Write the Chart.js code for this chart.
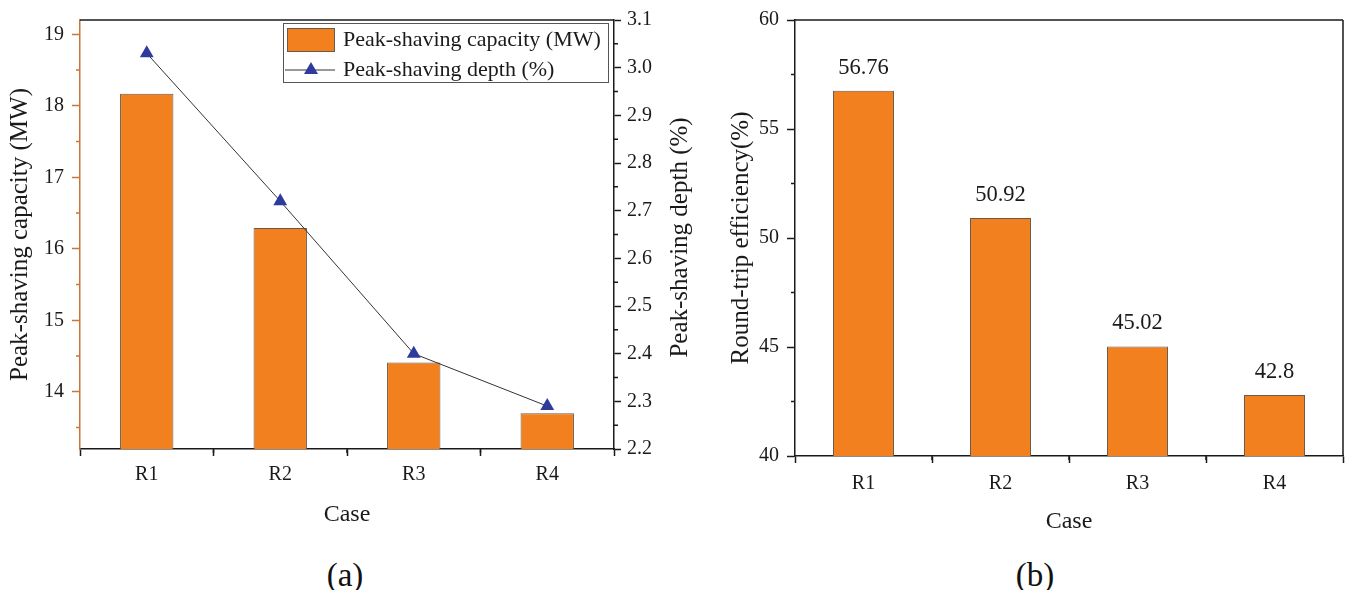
<!DOCTYPE html>
<html>
<head>
<meta charset="utf-8">
<script src="https://cdn.jsdelivr.net/npm/chart.js@4.4.0/dist/chart.umd.min.js"></script>
<style>
  body { margin: 0; background: #fff; width: 1349px; height: 590px; overflow: hidden; position: relative; font-family: "Liberation Serif", "Times New Roman", serif; }
  canvas { position: absolute; top: 0; }
  #chartA { left: 0; }
  #chartB { left: 700px; }
  .panel-tag { position: absolute; width: 100px; text-align: center; font-size: 33px; line-height: 40px; color: #111; }
</style>
</head>
<body>
<canvas id="chartA" width="700" height="545"></canvas>
<canvas id="chartB" width="649" height="545"></canvas>
<div class="panel-tag" style="left:295px; top:555px;">(a)</div>
<div class="panel-tag" style="left:985px; top:555px;">(b)</div>
<script>
// ---- data ----
const cases = ['R1', 'R2', 'R3', 'R4'];
const capacityMW = [18.17, 16.29, 14.41, 13.70];
const depthPct = [3.03, 2.72, 2.40, 2.29];
const efficiencyPct = [56.76, 50.92, 45.02, 42.8];

// ---- tick labels ----
const capacityTicks = [14, 15, 16, 17, 18, 19];
const capacityMinor = [13.5, 14.5, 15.5, 16.5, 17.5, 18.5];
const depthTicks = [2.2, 2.3, 2.4, 2.5, 2.6, 2.7, 2.8, 2.9, 3.0, 3.1];
const depthMinor = [2.25, 2.35, 2.45, 2.55, 2.65, 2.75, 2.85, 2.95, 3.05];
const efficiencyTicks = [40, 45, 50, 55, 60];
const efficiencyMinor = [42.5, 47.5, 52.5, 57.5];

const SERIF = '"Liberation Serif", "Times New Roman", serif';
const ORANGE = '#F2801E';
const BAR_EDGE = '#6b5a4a';
const AXIS_ORANGE = '#C8763A';
const MARKER_BLUE = '#2E3A9E';
const INK = '#1a1a1a';

const tickFont = { family: SERIF, size: 20 };
const titleFont = { family: SERIF, size: 25 };
const caseFont = { family: SERIF, size: 24 };

const fixedTicks = (values) => (scale) => { scale.ticks = values.map(v => ({ value: v })); };

// short ticks between the labelled ones
const minorTicks = {
  id: 'minorTicks',
  afterDraw(chart, args, opts) {
    const ctx = chart.ctx;
    for (const [id, cfg] of Object.entries(opts.scales || {})) {
      const s = chart.scales[id];
      let pixels = [];
      if (cfg.between) {
        for (let i = 1; i < s.ticks.length; i++) pixels.push((s.getPixelForTick(i - 1) + s.getPixelForTick(i)) / 2);
      } else {
        pixels = cfg.values.map(v => s.getPixelForValue(v));
      }
      ctx.save();
      ctx.strokeStyle = cfg.color;
      ctx.lineWidth = 1.5;
      ctx.beginPath();
      for (const p of pixels) {
        if (s.isHorizontal()) { ctx.moveTo(p, s.top); ctx.lineTo(p, s.top + cfg.length); }
        else if (s.position === 'left') { ctx.moveTo(s.right, p); ctx.lineTo(s.right - cfg.length, p); }
        else { ctx.moveTo(s.left, p); ctx.lineTo(s.left + cfg.length, p); }
      }
      ctx.stroke();
      ctx.restore();
    }
  }
};

// closing lines of the plot frame
const frame = {
  id: 'frame',
  afterDraw(chart, args, opts) {
    const { ctx, chartArea: a } = chart;
    ctx.save();
    ctx.strokeStyle = INK;
    ctx.lineWidth = 1.5;
    ctx.beginPath();
    ctx.moveTo(a.left, a.top); ctx.lineTo(a.right, a.top);
    if (opts.right) { ctx.moveTo(a.right, a.top); ctx.lineTo(a.right, a.bottom); }
    ctx.stroke();
    ctx.restore();
  }
};

// right-hand axis title, reading bottom to top
const sideTitle = {
  id: 'sideTitle',
  afterDraw(chart, args, opts) {
    if (!opts.text) return;
    const { ctx, chartArea: a } = chart;
    ctx.save();
    ctx.translate(opts.x, (a.top + a.bottom) / 2 + (opts.dy || 0));
    ctx.rotate(-Math.PI / 2);
    ctx.font = `${titleFont.size}px ${SERIF}`;
    ctx.fillStyle = INK;
    ctx.textAlign = 'center';
    ctx.textBaseline = 'middle';
    ctx.fillText(opts.text, 0, 0);
    ctx.restore();
  }
};

// boxed legend in the upper right of panel (a)
const boxLegend = {
  id: 'boxLegend',
  afterDraw(chart, args, opts) {
    if (!opts.show) return;
    const ctx = chart.ctx;
    const x = opts.x, y = opts.y, w = opts.w, h = opts.h;
    const ds = chart.data.datasets;
    ctx.save();
    ctx.fillStyle = '#fff';
    ctx.fillRect(x, y, w, h);
    ctx.strokeStyle = '#555';
    ctx.lineWidth = 1;
    ctx.strokeRect(x + 0.5, y + 0.5, w, h);
    // bar swatch
    ctx.fillStyle = ORANGE;
    ctx.fillRect(x + 4, y + 5, 48, 24);
    ctx.strokeStyle = BAR_EDGE;
    ctx.strokeRect(x + 4.5, y + 5.5, 47, 23);
    // line swatch with its marker
    const ly = y + 47;
    ctx.strokeStyle = '#333';
    ctx.lineWidth = 1;
    ctx.beginPath(); ctx.moveTo(x + 2, ly); ctx.lineTo(x + 52, ly); ctx.stroke();
    ctx.fillStyle = MARKER_BLUE;
    ctx.beginPath();
    ctx.moveTo(x + 28, ly - 8); ctx.lineTo(x + 35, ly + 4); ctx.lineTo(x + 21, ly + 4); ctx.closePath();
    ctx.fill();
    ctx.fillStyle = INK;
    ctx.font = `22px ${SERIF}`;
    ctx.textBaseline = 'middle';
    ctx.fillText(ds[0].label, x + 60, y + 17);
    ctx.fillText(ds[1].label, x + 60, ly);
    ctx.restore();
  }
};

// numbers printed above the bars of panel (b)
const valueLabels = {
  id: 'valueLabels',
  afterDatasetsDraw(chart) {
    const ctx = chart.ctx;
    const meta = chart.getDatasetMeta(0);
    const values = chart.data.datasets[0].data;
    ctx.save();
    ctx.font = `22.5px ${SERIF}`;
    ctx.fillStyle = INK;
    ctx.textAlign = 'center';
    ctx.textBaseline = 'middle';
    meta.data.forEach((bar, i) => ctx.fillText(String(values[i]), bar.x, bar.y - 23));
    ctx.restore();
  }
};

const xScale = (height, tickPad, titlePad) => ({
  type: 'category',
  offset: true,
  afterFit: s => { s.height = height; },
  grid: { display: true, drawOnChartArea: false, drawTicks: true, tickLength: 7, tickColor: INK, tickWidth: 1.5 },
  border: { display: true, color: INK, width: 1.5 },
  ticks: { color: INK, font: tickFont, padding: tickPad, maxRotation: 0 },
  title: { display: true, text: 'Case', color: INK, font: caseFont, padding: { top: 0, bottom: titlePad } }
});

new Chart(document.getElementById('chartA'), {
  data: {
    labels: cases,
    datasets: [
      {
        type: 'bar', label: 'Peak-shaving capacity (MW)', data: capacityMW, yAxisID: 'y',
        backgroundColor: ORANGE, borderColor: BAR_EDGE, borderWidth: 1,
        barPercentage: 0.4, categoryPercentage: 1, order: 2
      },
      {
        type: 'line', label: 'Peak-shaving depth (%)', data: depthPct, yAxisID: 'y1',
        borderColor: '#333', borderWidth: 1, pointStyle: 'triangle', pointRadius: 8,
        pointBackgroundColor: MARKER_BLUE, pointBorderColor: MARKER_BLUE, pointBorderWidth: 0,
        tension: 0, order: 1
      }
    ]
  },
  options: {
    responsive: false,
    animation: false,
    layout: { padding: { top: 18, left: 0, right: 0, bottom: 0 } },
    scales: {
      x: xScale(96, 7, 16),
      y: {
        position: 'left', min: 13.2, max: 19.2,
        afterFit: s => { s.width = 80; },
        afterBuildTicks: fixedTicks(capacityTicks),
        grid: { display: true, drawOnChartArea: false, drawTicks: true, tickLength: 8, tickColor: AXIS_ORANGE, tickWidth: 1.5 },
        border: { display: true, color: AXIS_ORANGE, width: 1.5 },
        ticks: { color: INK, font: tickFont, padding: 8, callback: v => String(v) },
        title: { display: true, text: 'Peak-shaving capacity (MW)', color: INK, font: titleFont, padding: { top: 5, bottom: 0 } }
      },
      y1: {
        position: 'right', min: 2.2, max: 3.1,
        afterFit: s => { s.width = 86; },
        afterBuildTicks: fixedTicks(depthTicks),
        grid: { display: true, drawOnChartArea: false, drawTicks: true, tickLength: 7, tickColor: INK, tickWidth: 1.5 },
        border: { display: true, color: INK, width: 1.5 },
        ticks: { color: INK, font: tickFont, padding: 6, callback: v => v.toFixed(1) }
      }
    },
    plugins: {
      legend: { display: false },
      tooltip: { enabled: false },
      minorTicks: { scales: {
        y: { values: capacityMinor, length: 4, color: AXIS_ORANGE },
        y1: { values: depthMinor, length: 4, color: INK },
        x: { between: true, length: 4, color: INK }
      } },
      frame: { right: false },
      sideTitle: { text: 'Peak-shaving depth (%)', x: 680, dy: 3 },
      boxLegend: { show: true, x: 283, y: 23, w: 325, h: 59 }
    }
  },
  plugins: [minorTicks, frame, sideTitle, boxLegend]
});

new Chart(document.getElementById('chartB'), {
  type: 'bar',
  data: {
    labels: cases,
    datasets: [{
      label: 'Round-trip efficiency(%)', data: efficiencyPct,
      backgroundColor: ORANGE, borderColor: BAR_EDGE, borderWidth: 1,
      barPercentage: 0.445, categoryPercentage: 1
    }]
  },
  options: {
    responsive: false,
    animation: false,
    layout: { padding: { top: 15, left: 0, right: 6, bottom: 0 } },
    scales: {
      x: xScale(89, 9, 9),
      y: {
        position: 'left', min: 40, max: 60,
        afterFit: s => { s.width = 95; },
        afterBuildTicks: fixedTicks(efficiencyTicks),
        grid: { display: true, drawOnChartArea: false, drawTicks: true, tickLength: 8, tickColor: INK, tickWidth: 1.5 },
        border: { display: true, color: INK, width: 1.5 },
        ticks: { color: INK, font: tickFont, padding: 8, callback: v => String(v) },
        title: { display: true, text: 'Round-trip efficiency(%)', color: INK, font: titleFont, padding: { top: 26, bottom: 0 } }
      }
    },
    plugins: {
      legend: { display: false },
      tooltip: { enabled: false },
      minorTicks: { scales: {
        y: { values: efficiencyMinor, length: 4, color: INK },
        x: { between: true, length: 4, color: INK }
      } },
      frame: { right: true }
    }
  },
  plugins: [minorTicks, frame, valueLabels]
});
</script>
</body>
</html>
